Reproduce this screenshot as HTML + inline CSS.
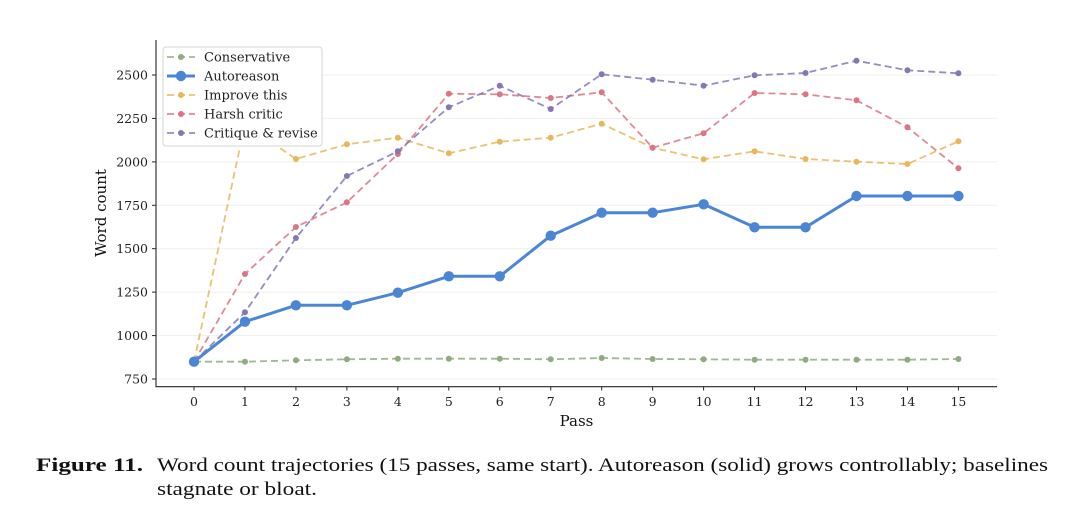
<!DOCTYPE html>
<html>
<head>
<meta charset="utf-8">
<style>
  html, body { margin: 0; padding: 0; background: #ffffff; }
  body { width: 1080px; height: 516px; overflow: hidden; }
  svg { display: block; }
  .tick { font-family: "DejaVu Serif", "Liberation Serif", serif; font-size: 12.5px; fill: #222; }
  .lab { font-family: "DejaVu Serif", "Liberation Serif", serif; font-size: 15px; fill: #111; }
  .leg { font-family: "DejaVu Serif", "Liberation Serif", serif; font-size: 13px; fill: #222; }
  .cap { font-family: "Liberation Serif", serif; font-size: 19px; fill: #111; }
</style>
</head>
<body>
<svg width="1080" height="516" viewBox="0 0 1080 516" xmlns="http://www.w3.org/2000/svg">
  <rect x="0" y="0" width="1080" height="516" fill="#ffffff"/>

  <!-- grid -->
  <g stroke="#efefef" stroke-width="1">
    <line x1="156" y1="379" x2="997" y2="379"/>
    <line x1="156" y1="335.6" x2="997" y2="335.6"/>
    <line x1="156" y1="292.1" x2="997" y2="292.1"/>
    <line x1="156" y1="248.7" x2="997" y2="248.7"/>
    <line x1="156" y1="205.3" x2="997" y2="205.3"/>
    <line x1="156" y1="161.9" x2="997" y2="161.9"/>
    <line x1="156" y1="118.4" x2="997" y2="118.4"/>
    <line x1="156" y1="75" x2="997" y2="75"/>
  </g>

  <!-- Conservative -->
  <g stroke="#8fab80" fill="#8fab80">
    <polyline fill="none" stroke-width="1.8" stroke-dasharray="7,4" stroke-opacity="0.85"
      points="194,361.7 244.96,361.7 295.92,360.3 346.88,359.3 397.84,358.7 448.8,358.7 499.76,358.7 550.72,359.3 601.68,358 652.64,359 703.6,359.3 754.56,359.7 805.52,359.7 856.48,359.7 907.44,359.7 958.4,359"/>
    <g stroke="none">
      <circle cx="194" cy="361.7" r="3"/><circle cx="244.96" cy="361.7" r="3"/><circle cx="295.92" cy="360.3" r="3"/><circle cx="346.88" cy="359.3" r="3"/><circle cx="397.84" cy="358.7" r="3"/><circle cx="448.8" cy="358.7" r="3"/><circle cx="499.76" cy="358.7" r="3"/><circle cx="550.72" cy="359.3" r="3"/><circle cx="601.68" cy="358" r="3"/><circle cx="652.64" cy="359" r="3"/><circle cx="703.6" cy="359.3" r="3"/><circle cx="754.56" cy="359.7" r="3"/><circle cx="805.52" cy="359.7" r="3"/><circle cx="856.48" cy="359.7" r="3"/><circle cx="907.44" cy="359.7" r="3"/><circle cx="958.4" cy="359" r="3"/>
    </g>
  </g>

  <!-- Improve this -->
  <g stroke="#e8b75a" fill="#e8b75a">
    <polyline fill="none" stroke-width="1.8" stroke-dasharray="7,4" stroke-opacity="0.85"
      points="194,361.7 244.96,124 295.92,159 346.88,144.3 397.84,137.7 448.8,153.3 499.76,141.7 550.72,137.7 601.68,123.7 652.64,147.7 703.6,159.3 754.56,151.3 805.52,159 856.48,161.7 907.44,164 958.4,141.3"/>
    <g stroke="none">
      <circle cx="244.96" cy="124" r="3"/><circle cx="295.92" cy="159" r="3"/><circle cx="346.88" cy="144.3" r="3"/><circle cx="397.84" cy="137.7" r="3"/><circle cx="448.8" cy="153.3" r="3"/><circle cx="499.76" cy="141.7" r="3"/><circle cx="550.72" cy="137.7" r="3"/><circle cx="601.68" cy="123.7" r="3"/><circle cx="652.64" cy="147.7" r="3"/><circle cx="703.6" cy="159.3" r="3"/><circle cx="754.56" cy="151.3" r="3"/><circle cx="805.52" cy="159" r="3"/><circle cx="856.48" cy="161.7" r="3"/><circle cx="907.44" cy="164" r="3"/><circle cx="958.4" cy="141.3" r="3"/>
    </g>
  </g>

  <!-- Harsh critic -->
  <g stroke="#dc7482" fill="#dc7482">
    <polyline fill="none" stroke-width="1.8" stroke-dasharray="7,4" stroke-opacity="0.85"
      points="194,361.7 244.96,274 295.92,227 346.88,202.3 397.84,154 448.8,93.7 499.76,94.3 550.72,98 601.68,92.3 652.64,147.7 703.6,133.3 754.56,93 805.52,94.3 856.48,100.3 907.44,127.3 958.4,168.3"/>
    <g stroke="none">
      <circle cx="244.96" cy="274" r="3"/><circle cx="295.92" cy="227" r="3"/><circle cx="346.88" cy="202.3" r="3"/><circle cx="397.84" cy="154" r="3"/><circle cx="448.8" cy="93.7" r="3"/><circle cx="499.76" cy="94.3" r="3"/><circle cx="550.72" cy="98" r="3"/><circle cx="601.68" cy="92.3" r="3"/><circle cx="652.64" cy="147.7" r="3"/><circle cx="703.6" cy="133.3" r="3"/><circle cx="754.56" cy="93" r="3"/><circle cx="805.52" cy="94.3" r="3"/><circle cx="856.48" cy="100.3" r="3"/><circle cx="907.44" cy="127.3" r="3"/><circle cx="958.4" cy="168.3" r="3"/>
    </g>
  </g>

  <!-- Critique & revise -->
  <g stroke="#8577b5" fill="#8577b5">
    <polyline fill="none" stroke-width="1.8" stroke-dasharray="7,4" stroke-opacity="0.85"
      points="194,361.7 244.96,312.3 295.92,238 346.88,176 397.84,151.3 448.8,107.3 499.76,85.7 550.72,109 601.68,74.3 652.64,79.7 703.6,85.7 754.56,75.3 805.52,73 856.48,60.7 907.44,70.3 958.4,73.3"/>
    <g stroke="none">
      <circle cx="244.96" cy="312.3" r="3"/><circle cx="295.92" cy="238" r="3"/><circle cx="346.88" cy="176" r="3"/><circle cx="397.84" cy="151.3" r="3"/><circle cx="448.8" cy="107.3" r="3"/><circle cx="499.76" cy="85.7" r="3"/><circle cx="550.72" cy="109" r="3"/><circle cx="601.68" cy="74.3" r="3"/><circle cx="652.64" cy="79.7" r="3"/><circle cx="703.6" cy="85.7" r="3"/><circle cx="754.56" cy="75.3" r="3"/><circle cx="805.52" cy="73" r="3"/><circle cx="856.48" cy="60.7" r="3"/><circle cx="907.44" cy="70.3" r="3"/><circle cx="958.4" cy="73.3" r="3"/>
    </g>
  </g>

  <!-- Autoreason -->
  <g stroke="#4a85d6" fill="#4a85d6">
    <polyline fill="none" stroke-width="3" stroke-linejoin="round"
      points="194,361.7 244.96,321.7 295.92,305.3 346.88,305.3 397.84,292.7 448.8,276.3 499.76,276.3 550.72,235.7 601.68,212.7 652.64,212.7 703.6,204.3 754.56,227.3 805.52,227.3 856.48,196 907.44,196 958.4,196"/>
    <g stroke="none">
      <circle cx="194" cy="361.7" r="5.2"/><circle cx="244.96" cy="321.7" r="5.2"/><circle cx="295.92" cy="305.3" r="5.2"/><circle cx="346.88" cy="305.3" r="5.2"/><circle cx="397.84" cy="292.7" r="5.2"/><circle cx="448.8" cy="276.3" r="5.2"/><circle cx="499.76" cy="276.3" r="5.2"/><circle cx="550.72" cy="235.7" r="5.2"/><circle cx="601.68" cy="212.7" r="5.2"/><circle cx="652.64" cy="212.7" r="5.2"/><circle cx="703.6" cy="204.3" r="5.2"/><circle cx="754.56" cy="227.3" r="5.2"/><circle cx="805.52" cy="227.3" r="5.2"/><circle cx="856.48" cy="196" r="5.2"/><circle cx="907.44" cy="196" r="5.2"/><circle cx="958.4" cy="196" r="5.2"/>
    </g>
  </g>

  <!-- spines -->
  <g stroke="#262626" stroke-width="1.1">
    <line x1="156" y1="40" x2="156" y2="387"/>
    <line x1="155.5" y1="386.7" x2="997" y2="386.7"/>
  </g>

  <!-- y ticks -->
  <g stroke="#262626" stroke-width="1">
    <line x1="152" y1="379" x2="156" y2="379"/>
    <line x1="152" y1="335.6" x2="156" y2="335.6"/>
    <line x1="152" y1="292.1" x2="156" y2="292.1"/>
    <line x1="152" y1="248.7" x2="156" y2="248.7"/>
    <line x1="152" y1="205.3" x2="156" y2="205.3"/>
    <line x1="152" y1="161.9" x2="156" y2="161.9"/>
    <line x1="152" y1="118.4" x2="156" y2="118.4"/>
    <line x1="152" y1="75" x2="156" y2="75"/>
  </g>
  <g class="tick" text-anchor="end">
    <text x="148" y="383.5">750</text>
    <text x="148" y="340.1">1000</text>
    <text x="148" y="296.6">1250</text>
    <text x="148" y="253.2">1500</text>
    <text x="148" y="209.8">1750</text>
    <text x="148" y="166.4">2000</text>
    <text x="148" y="122.9">2250</text>
    <text x="148" y="79.5">2500</text>
  </g>

  <!-- x ticks -->
  <g stroke="#262626" stroke-width="1">
    <line x1="194" y1="386.7" x2="194" y2="390.5"/>
    <line x1="244.96" y1="386.7" x2="244.96" y2="390.5"/>
    <line x1="295.92" y1="386.7" x2="295.92" y2="390.5"/>
    <line x1="346.88" y1="386.7" x2="346.88" y2="390.5"/>
    <line x1="397.84" y1="386.7" x2="397.84" y2="390.5"/>
    <line x1="448.8" y1="386.7" x2="448.8" y2="390.5"/>
    <line x1="499.76" y1="386.7" x2="499.76" y2="390.5"/>
    <line x1="550.72" y1="386.7" x2="550.72" y2="390.5"/>
    <line x1="601.68" y1="386.7" x2="601.68" y2="390.5"/>
    <line x1="652.64" y1="386.7" x2="652.64" y2="390.5"/>
    <line x1="703.6" y1="386.7" x2="703.6" y2="390.5"/>
    <line x1="754.56" y1="386.7" x2="754.56" y2="390.5"/>
    <line x1="805.52" y1="386.7" x2="805.52" y2="390.5"/>
    <line x1="856.48" y1="386.7" x2="856.48" y2="390.5"/>
    <line x1="907.44" y1="386.7" x2="907.44" y2="390.5"/>
    <line x1="958.4" y1="386.7" x2="958.4" y2="390.5"/>
  </g>
  <g class="tick" text-anchor="middle">
    <text x="194" y="406">0</text>
    <text x="244.96" y="406">1</text>
    <text x="295.92" y="406">2</text>
    <text x="346.88" y="406">3</text>
    <text x="397.84" y="406">4</text>
    <text x="448.8" y="406">5</text>
    <text x="499.76" y="406">6</text>
    <text x="550.72" y="406">7</text>
    <text x="601.68" y="406">8</text>
    <text x="652.64" y="406">9</text>
    <text x="703.6" y="406">10</text>
    <text x="754.56" y="406">11</text>
    <text x="805.52" y="406">12</text>
    <text x="856.48" y="406">13</text>
    <text x="907.44" y="406">14</text>
    <text x="958.4" y="406">15</text>
  </g>

  <!-- axis labels -->
  <text class="lab" x="576.5" y="426" text-anchor="middle">Pass</text>
  <text class="lab" x="0" y="0" text-anchor="middle" transform="translate(106,213) rotate(-90)">Word count</text>

  <!-- legend -->
  <rect x="163" y="47" width="159" height="99" rx="3" ry="3" fill="#ffffff" stroke="#d6d6d6" stroke-width="1"/>
  <g>
    <line x1="167" y1="57" x2="195" y2="57" stroke="#8fab80" stroke-width="1.8" stroke-dasharray="7,4" stroke-opacity="0.85"/>
    <circle cx="181" cy="57" r="3" fill="#8fab80"/>
    <line x1="167" y1="76" x2="195" y2="76" stroke="#4a85d6" stroke-width="3"/>
    <circle cx="181" cy="76" r="5.2" fill="#4a85d6"/>
    <line x1="167" y1="95" x2="195" y2="95" stroke="#e8b75a" stroke-width="1.8" stroke-dasharray="7,4" stroke-opacity="0.85"/>
    <circle cx="181" cy="95" r="3" fill="#e8b75a"/>
    <line x1="167" y1="114" x2="195" y2="114" stroke="#dc7482" stroke-width="1.8" stroke-dasharray="7,4" stroke-opacity="0.85"/>
    <circle cx="181" cy="114" r="3" fill="#dc7482"/>
    <line x1="167" y1="133" x2="195" y2="133" stroke="#8577b5" stroke-width="1.8" stroke-dasharray="7,4" stroke-opacity="0.85"/>
    <circle cx="181" cy="133" r="3" fill="#8577b5"/>
  </g>
  <g class="leg">
    <text x="204" y="61.5">Conservative</text>
    <text x="204" y="80.5">Autoreason</text>
    <text x="204" y="99.5">Improve this</text>
    <text x="204" y="118.5">Harsh critic</text>
    <text x="204" y="137.5">Critique &amp; revise</text>
  </g>

  <!-- caption -->
  <text class="cap" x="36" y="471" font-weight="bold" textLength="107" lengthAdjust="spacingAndGlyphs">Figure 11.</text>
  <text class="cap" x="157" y="471" textLength="891" lengthAdjust="spacingAndGlyphs">Word count trajectories (15 passes, same start). Autoreason (solid) grows controllably; baselines</text>
  <text class="cap" x="157" y="495" textLength="160" lengthAdjust="spacingAndGlyphs">stagnate or bloat.</text>
</svg>
</body>
</html>
